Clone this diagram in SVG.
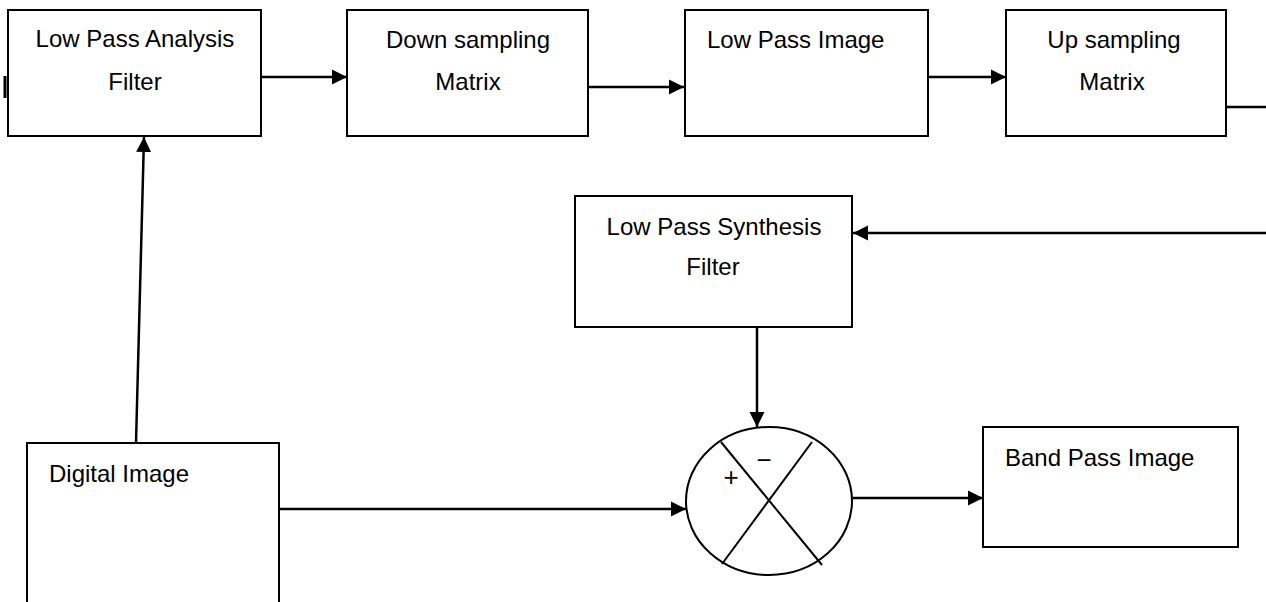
<svg xmlns="http://www.w3.org/2000/svg" width="1266" height="602" viewBox="0 0 1266 602">
<style>
.box{fill:#fff;stroke:#000;stroke-width:2}
.lbl{font-family:"Liberation Sans",Arial,sans-serif;font-size:24px;fill:#000}
.c{text-anchor:middle}
.sign{font-family:"Liberation Sans",Arial,sans-serif;font-size:26px;fill:#000;text-anchor:middle}
.conn{stroke:#000;stroke-width:2.5;fill:none}
.thin{stroke:#000;stroke-width:2;fill:none}
</style>
<defs>
<marker id="ah" markerUnits="userSpaceOnUse" markerWidth="16" markerHeight="16" viewBox="0 0 16 16" refX="15" refY="8" orient="auto">
<path d="M0,0.5 L15,8 L0,15.5 Z" fill="#000"/>
</marker>
</defs>
<rect width="1266" height="602" fill="#fff"/>
<g id="lpaf">
<rect class="box" x="8" y="10" width="253" height="126"/>
<text class="lbl c" x="135" y="47">Low Pass Analysis</text>
<text class="lbl c" x="135" y="90">Filter</text>
<rect x="3.5" y="76" width="3" height="22" fill="#000"/>
</g>
<g id="down">
<rect class="box" x="347" y="10" width="241" height="126"/>
<text class="lbl c" x="468" y="48">Down sampling</text>
<text class="lbl c" x="468" y="90">Matrix</text>
</g>
<g id="lpimg">
<rect class="box" x="685" y="10" width="243" height="126"/>
<text class="lbl" x="707" y="48">Low Pass Image</text>
</g>
<g id="up">
<rect class="box" x="1006" y="10" width="220" height="126"/>
<text class="lbl c" x="1114" y="48">Up sampling</text>
<text class="lbl c" x="1112" y="90">Matrix</text>
</g>
<g id="lpsf">
<rect class="box" x="575" y="196" width="277" height="131"/>
<text class="lbl c" x="714" y="235">Low Pass Synthesis</text>
<text class="lbl c" x="713" y="275">Filter</text>
</g>
<g id="digital">
<path class="thin" d="M27,610 V443 H279 V610"/>
<text class="lbl" x="49" y="482">Digital Image</text>
</g>
<g id="sum">
<ellipse cx="769" cy="501" rx="83" ry="74" fill="#fff" stroke="#000" stroke-width="2"/>
<line class="thin" x1="721" y1="442" x2="822" y2="565"/>
<line class="thin" x1="812" y1="442" x2="722" y2="564"/>
<text class="sign" x="731" y="486">+</text>
<text class="sign" x="764" y="469">−</text>
</g>
<g id="band">
<rect class="box" x="983" y="427" width="255" height="120"/>
<text class="lbl" x="1005" y="466">Band Pass Image</text>
</g>
<g id="connectors">
<line class="conn" x1="261" y1="77" x2="347" y2="77" marker-end="url(#ah)"/>
<line class="conn" x1="588" y1="87" x2="684" y2="87" marker-end="url(#ah)"/>
<line class="conn" x1="928" y1="77" x2="1006" y2="77" marker-end="url(#ah)"/>
<line class="conn" x1="1226" y1="107" x2="1266" y2="107"/>
<line class="conn" x1="1266" y1="233" x2="853" y2="233" marker-end="url(#ah)"/>
<line class="conn" x1="757" y1="327" x2="757" y2="427" marker-end="url(#ah)"/>
<line class="conn" x1="136" y1="443" x2="144" y2="137" marker-end="url(#ah)"/>
<line class="conn" x1="279" y1="509" x2="686" y2="509" marker-end="url(#ah)"/>
<line class="conn" x1="852" y1="498" x2="983" y2="498" marker-end="url(#ah)"/>
</g>
</svg>
